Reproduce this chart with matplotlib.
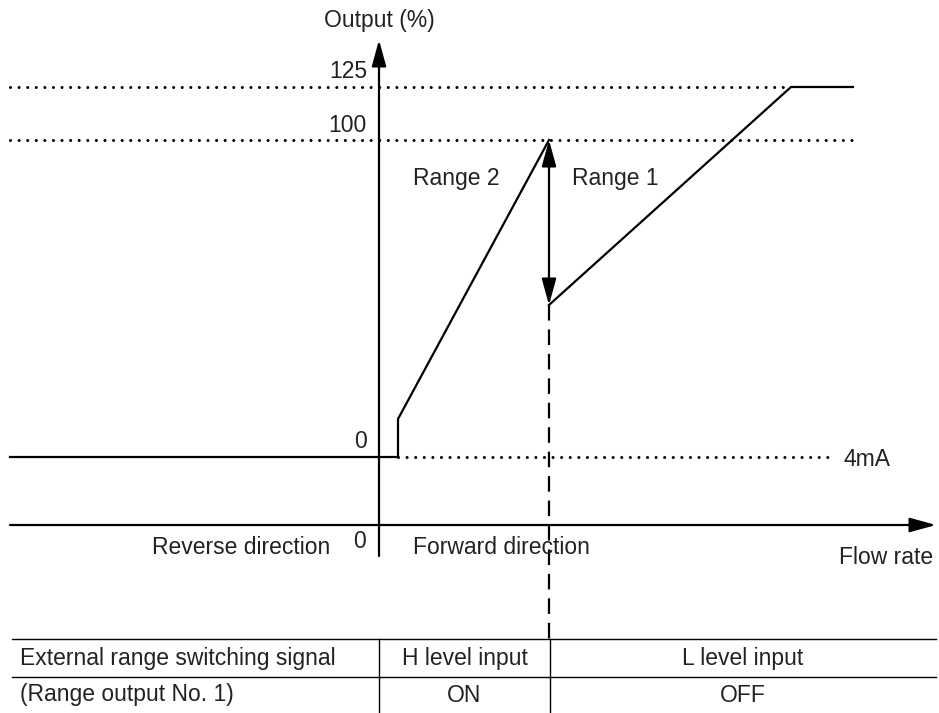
import matplotlib.pyplot as plt

# --- diagram data (schematic positions, x to the right, y downward) ---
x_left, x_axis, x_right = 10, 379, 936
y_flow_axis = 525
y_4ma, y_100, y_125 = 457, 140, 87

# output curve before switching point (range 2)
range2_x = [10, 398, 398, 549]
range2_y = [457, 457, 419, 140]
# output curve after switching point (range 1)
range1_x = [549, 791, 853]
range1_y = [305, 87, 87]
x_switch = 549

level_labels = ['0', '100', '125']
level_y = [y_4ma, y_100, y_125]

table_rows = [['External range switching signal', 'H level input', 'L level input'],
              ['(Range output No. 1)', 'ON', 'OFF']]
table_col_x = [12, 379, 550, 936]
table_row_y = [639, 677, 713]

plt.rcParams['font.family'] = ['Liberation Sans', 'DejaVu Sans']
fs = 16.5
tc = '#222222'

fig = plt.figure(figsize=(9.39, 7.13), dpi=100)
ax = fig.add_axes([0, 0, 1, 1])
ax.set_xlim(0, 939)
ax.set_ylim(713, 0)
ax.axis('off')

lw = 1.6
dot = dict(color='black', lw=2.2, linestyle=(0, (0.01, 2.8)), dash_capstyle='round')

# dotted reference levels
ax.plot([x_left, 791], [y_125, y_125], **dot)
ax.plot([x_left, 855], [y_100, y_100], **dot)
ax.plot([398, 828], [y_4ma, y_4ma], **dot)

# axes with arrows
arr = dict(arrowstyle='-|>,head_length=0.8,head_width=0.22', mutation_scale=20,
           lw=lw, color='black', shrinkA=0, shrinkB=0)
ax.annotate('', xy=(x_axis, 40), xytext=(x_axis, 556), arrowprops=arr)
ax.annotate('', xy=(x_right, y_flow_axis), xytext=(x_left, y_flow_axis), arrowprops=arr)

# output curves
ax.plot(range2_x, range2_y, color='black', lw=lw, solid_joinstyle='miter')
ax.plot(range1_x, range1_y, color='black', lw=lw, solid_joinstyle='miter')

# switching double arrow and dashed line
darr = dict(arr)
darr['arrowstyle'] = '<|-|>,head_length=0.8,head_width=0.22'
ax.annotate('', xy=(x_switch, y_100), xytext=(x_switch, range1_y[0]), arrowprops=darr)
ax.plot([x_switch, x_switch], [range1_y[0], table_row_y[0]], color='black', lw=lw,
        linestyle=(0, (7, 4)))

# labels
ax.text(x_axis, 20, 'Output (%)', ha='center', va='center', fontsize=fs, color=tc)
for lab, yy in zip(level_labels, level_y):
    ax.text(367, yy - 15, lab, ha='right', va='center', fontsize=fs, color=tc)
ax.text(366, 541, '0', ha='right', va='center', fontsize=fs, color=tc)
ax.text(330, 548, 'Reverse direction', ha='right', va='center', fontsize=fs, color=tc)
ax.text(413, 548, 'Forward direction', ha='left', va='center', fontsize=fs, color=tc)
ax.text(933, 557, 'Flow rate', ha='right', va='center', fontsize=fs, color=tc)
ax.text(843, 460, '4mA', ha='left', va='center', fontsize=fs, color=tc)
ax.text(413, 178, 'Range 2', ha='left', va='center', fontsize=fs, color=tc)
ax.text(572, 178, 'Range 1', ha='left', va='center', fontsize=fs, color=tc)

# table
tlw = 1.0
ax.plot([table_col_x[0], table_col_x[-1]], [table_row_y[0]] * 2, color='black', lw=tlw)
ax.plot([table_col_x[0], table_col_x[-1]], [table_row_y[1]] * 2, color='black', lw=tlw)
for cx in table_col_x[1:3]:
    ax.plot([cx, cx], [table_row_y[0], table_row_y[-1]], color='black', lw=tlw)
for r, row in enumerate(table_rows):
    yc = (table_row_y[r] + table_row_y[r + 1]) / 2
    ax.text(table_col_x[0] + 8, yc, row[0], ha='left', va='center', fontsize=fs, color=tc)
    for c in (1, 2):
        xc = (table_col_x[c] + table_col_x[c + 1]) / 2
        ax.text(xc, yc, row[c], ha='center', va='center', fontsize=fs, color=tc)

fig.savefig('out.png', dpi=100)
